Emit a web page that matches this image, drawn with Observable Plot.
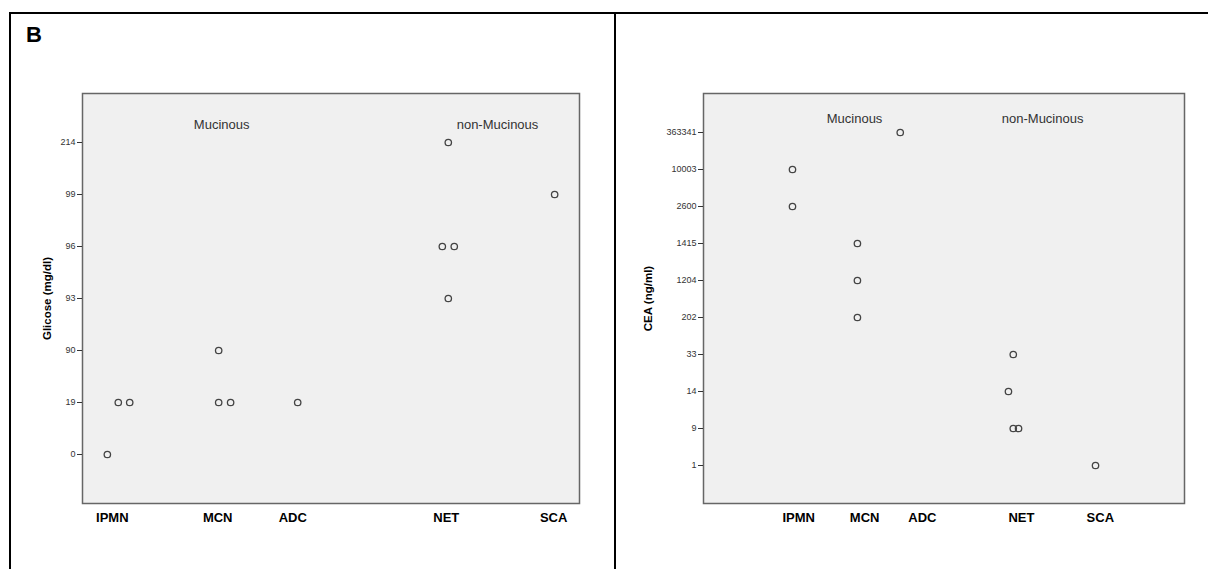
<!DOCTYPE html>
<html>
<head>
<meta charset="utf-8">
<script src="https://cdn.jsdelivr.net/npm/d3@7"></script>
<script src="https://cdn.jsdelivr.net/npm/@observablehq/plot@0.6"></script>
<style>
  html, body { margin: 0; padding: 0; background: white; }
  #wrap { position: relative; width: 1208px; height: 569px; overflow: hidden; font-family: "Liberation Sans", Arial, sans-serif; }
  .line { position: absolute; background: #000; }
  #tag { position: absolute; left: 26px; top: 24px; font: bold 22px/22px "Liberation Sans", Arial, sans-serif; color: #000; }
  .panel { position: absolute; top: 0; }
  g[aria-label="y-axis label"] text { font-weight: bold; font-size: 11.5px; fill: #000; }
</style>
</head>
<body>
<div id="wrap">
  <div class="line" style="left:9px; top:12px; width:1199px; height:2px;"></div>
  <div class="line" style="left:9px; top:12px; width:2px; height:557px;"></div>
  <div class="line" style="left:614px; top:12px; width:2px; height:557px;"></div>
  <div id="tag">B</div>
  <div id="left" class="panel" style="left:0px;"></div>
  <div id="right" class="panel" style="left:616px;"></div>
</div>
<script>
// Categories (x axis)
const categories = ["IPMN", "MCN", "ADC", "NET", "SCA"];
const glicoseCatCode = [0.60, 2.72, 4.23, 7.32, 9.48];
const ceaCatCode = [1.98, 3.35, 4.55, 6.61, 8.25];

// Left panel: Glicose (mg/dl), ordinal axis values top to bottom
const glicoseTicks = [214, 99, 96, 93, 90, 19, 0];
const glicoseGroup = ["IPMN", "IPMN", "IPMN", "MCN", "MCN", "MCN", "ADC", "NET", "NET", "NET", "NET", "SCA"];
const glicoseValue = [0, 19, 19, 90, 19, 19, 19, 214, 96, 96, 93, 99];
const glicoseCode  = [0.50, 0.72, 0.95, 2.74, 2.74, 2.98, 4.33, 7.36, 7.24, 7.48, 7.36, 9.50];

// Right panel: CEA (ng/ml), ordinal axis values top to bottom
const ceaTicks = [363341, 10003, 2600, 1415, 1204, 202, 33, 14, 9, 1];
const ceaGroup = ["IPMN", "IPMN", "MCN", "MCN", "MCN", "ADC", "NET", "NET", "NET", "NET", "SCA"];
const ceaValue = [10003, 2600, 1415, 1204, 202, 363341, 33, 14, 9, 9, 1];
const ceaCode  = [1.85, 1.85, 3.20, 3.20, 3.20, 4.09, 6.44, 6.34, 6.44, 6.55, 8.15];

// Group annotations
const groupLabels = ["Mucinous", "non-Mucinous"];
const glicoseLabelCode = [2.80, 8.35];
const ceaLabelCode = [3.14, 7.05];

function panel({codes, values, groups, ticks, catCodes, labelCodes, label, width, marginLeft, marginRight, padding, labelDy, labelOffset}) {
  const data = values.map((v, i) => ({value: v, code: codes[i], group: groups[i]}));
  const ann = groupLabels.map((t, i) => ({text: t, code: labelCodes[i]}));
  return Plot.plot({
    width,
    height: 569,
    marginTop: 93,
    marginBottom: 66,
    marginLeft,
    marginRight,
    style: {background: "transparent", fontFamily: "'Liberation Sans', Arial, sans-serif", overflow: "visible"},
    x: {type: "linear", domain: [0, 10]},
    y: {type: "point", domain: ticks, padding},
    marks: [
      Plot.frame({fill: "#f0f0f0", stroke: "#666", strokeWidth: 1.5}),
      Plot.axisY({
        ticks, tickSize: 5, tickPadding: 2, fontSize: 9, color: "#333",
        tickFormat: d => String(d),
        label, labelAnchor: "center", labelOffset, labelArrow: "none"
      }),
      Plot.axisX({
        ticks: catCodes, tickSize: 0, tickPadding: 9, fontSize: 13, fontWeight: "bold", color: "#000",
        tickFormat: d => categories[catCodes.indexOf(d)], label: null
      }),
      Plot.text(ann, {x: "code", text: "text", frameAnchor: "top", dy: labelDy, fontSize: 13, fill: "#333"}),
      Plot.dot(data, {x: "code", y: "value", r: 3.2, stroke: "#444", strokeWidth: 1.3, fill: "none"})
    ]
  });
}

document.getElementById("left").append(panel({
  codes: glicoseCode, values: glicoseValue, groups: glicoseGroup, ticks: glicoseTicks,
  catCodes: glicoseCatCode, labelCodes: glicoseLabelCode, label: "Glicose (mg/dl)",
  width: 610, marginLeft: 82, marginRight: 31, padding: 0.9, labelDy: 26, labelOffset: 40
}));

document.getElementById("right").append(panel({
  codes: ceaCode, values: ceaValue, groups: ceaGroup, ticks: ceaTicks,
  catCodes: ceaCatCode, labelCodes: ceaLabelCode, label: "CEA (ng/ml)",
  width: 592, marginLeft: 87, marginRight: 24, padding: 1.04, labelDy: 20, labelOffset: 60
}));
</script>
</body>
</html>
